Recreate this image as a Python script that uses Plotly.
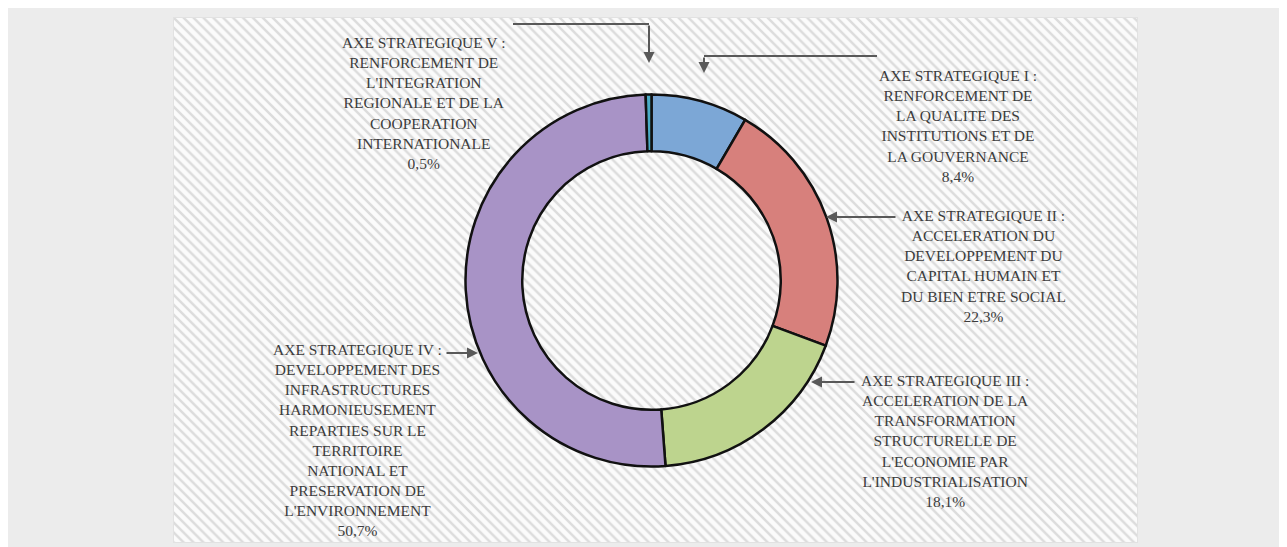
import plotly.graph_objects as go

W, H = 1287, 547
OFF = 8  # page body margin offset

# ---- data ----
labels = [
    "AXE STRATEGIQUE I :<br>RENFORCEMENT DE<br>LA QUALITE DES<br>INSTITUTIONS ET DE<br>LA GOUVERNANCE",
    "AXE STRATEGIQUE II :<br>ACCELERATION DU<br>DEVELOPPEMENT DU<br>CAPITAL HUMAIN ET<br>DU BIEN ETRE SOCIAL",
    "AXE STRATEGIQUE III :<br>ACCELERATION DE LA<br>TRANSFORMATION<br>STRUCTURELLE DE<br>L'ECONOMIE PAR<br>L'INDUSTRIALISATION",
    "AXE STRATEGIQUE IV :<br>DEVELOPPEMENT DES<br>INFRASTRUCTURES<br>HARMONIEUSEMENT<br>REPARTIES SUR LE<br>TERRITOIRE<br>NATIONAL ET<br>PRESERVATION DE<br>L'ENVIRONNEMENT",
    "AXE STRATEGIQUE V :<br>RENFORCEMENT DE<br>L'INTEGRATION<br>REGIONALE ET DE LA<br>COOPERATION<br>INTERNATIONALE",
]
values = [8.4, 22.3, 18.1, 50.7, 0.5]
colors = ["#7ca7d6", "#d7807c", "#bdd48e", "#a893c6", "#4bacc6"]

# label block centres (pixels) and arrows (tail -> tip, pixels)
label_pos = [(958, 126), (983, 266), (945, 441), (357, 440), (423, 103)]
arrows = [
    [(877, 56), (704, 56), (704, 73)],
    [(897, 217), (826, 217)],
    [(856, 382), (811, 382)],
    [(445, 353), (478, 353)],
    [(513, 24), (649, 24), (649, 63)],
]


def px(x):
    return (x - OFF) / W


def py(y):
    return 1 - (y - OFF) / H


fig = go.Figure()

# hatched panel
fig.add_trace(go.Bar(
    x=[0], y=[1], width=[1],
    marker=dict(color="#f7f7f7", line=dict(color="#e2e2e2", width=2),
                pattern=dict(shape="\\", size=7, solidity=0.35,
                             fgcolor="#dcdcdc", bgcolor="#fbfbfb", fillmode="replace")),
    hoverinfo="skip", showlegend=False,
))

# donut
cx, cy, r = 651.5, 280.5, 186
fig.add_trace(go.Pie(
    values=values,
    labels=[f"Axe {i+1}" for i in range(len(values))],
    hole=0.695,
    sort=False, direction="clockwise", rotation=0,
    marker=dict(colors=colors, line=dict(color="#111111", width=2.5)),
    textinfo="none", hoverinfo="skip", showlegend=False,
    domain=dict(x=[px(cx - r), px(cx + r)], y=[py(cy + r), py(cy - r)]),
))

annotations = []
shapes = [
    dict(type="rect", xref="paper", yref="paper", x0=0, x1=1, y0=0, y1=1,
         fillcolor="#ececec", line=dict(width=0), layer="below"),
]

for lab, v, (lx, ly) in zip(labels, values, label_pos):
    pct = f"{v:.1f}".replace(".", ",") + "%"
    annotations.append(dict(
        x=px(lx), y=py(ly), xref="paper", yref="paper",
        text=lab + "<br>" + pct, showarrow=False, align="center",
        xanchor="center", yanchor="middle",
        font=dict(family="Liberation Serif, DejaVu Serif, serif", size=15.5, color="#3c3c3c"),
    ))

for pts in arrows:
    for (x0, y0), (x1, y1) in zip(pts[:-2], pts[1:-1]):
        shapes.append(dict(type="line", xref="paper", yref="paper",
                           x0=px(x0), y0=py(y0), x1=px(x1), y1=py(y1),
                           line=dict(color="#595959", width=2)))
    (tx, ty), (hx, hy) = pts[-2], pts[-1]
    annotations.append(dict(
        x=px(hx), y=py(hy), xref="paper", yref="paper",
        ax=tx - hx, ay=ty - hy, axref="pixel", ayref="pixel",
        text="", showarrow=True, arrowhead=2, arrowsize=1.1, arrowwidth=2,
        arrowcolor="#595959", standoff=0,
    ))

fig.update_layout(
    width=W, height=H,
    margin=dict(l=0, r=0, t=0, b=0),
    paper_bgcolor="white", plot_bgcolor="rgba(0,0,0,0)",
    xaxis=dict(domain=[px(173), px(1138)], range=[-0.5, 0.5], visible=False, fixedrange=True),
    yaxis=dict(domain=[py(543), py(17)], range=[0, 1], visible=False, fixedrange=True),
    bargap=0,
    shapes=shapes,
    annotations=annotations,
)

fig.write_html("out.html")
